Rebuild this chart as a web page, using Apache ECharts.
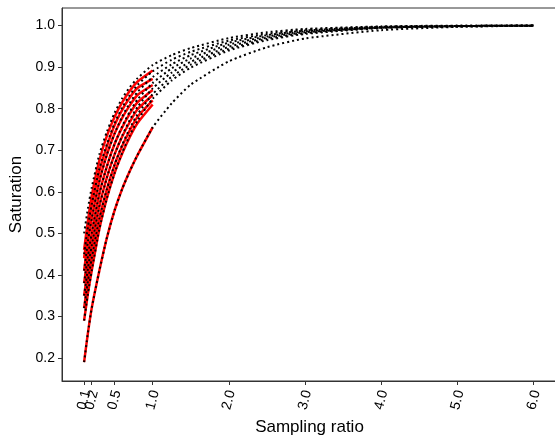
<!DOCTYPE html>
<html><head><meta charset="utf-8">
<script src="https://cdn.jsdelivr.net/npm/echarts@6/dist/echarts.min.js"></script>
<style>html,body{margin:0;padding:0;background:#fff}#c{width:555px;height:442px}</style>
</head><body><div id="c"></div>
<script>
// sampling ratios where curves were read
const xFull = [0.1, 0.15, 0.2, 0.3, 0.4, 0.5, 0.6, 0.7, 0.8, 1.0, 1.25, 1.5, 2.0, 2.5, 3.0, 4.0, 5.0, 6.0];
const xShort = [0.1, 0.15, 0.2, 0.3, 0.4, 0.5, 0.6, 0.7, 0.8, 1.0];
// black dotted curves (saturation)
const blackA = [0.50, 0.56, 0.61, 0.69, 0.745, 0.79, 0.825, 0.852, 0.873, 0.905, 0.929, 0.946, 0.97, 0.984, 0.992, 0.998, 1.0, 1.0];
const blackB = [0.45, 0.515, 0.57, 0.655, 0.715, 0.765, 0.803, 0.833, 0.857, 0.89, 0.918, 0.937, 0.964, 0.98, 0.99, 0.997, 0.999, 1.0];
const blackC = [0.41, 0.48, 0.535, 0.625, 0.69, 0.74, 0.781, 0.814, 0.84, 0.876, 0.907, 0.929, 0.959, 0.977, 0.988, 0.997, 0.999, 1.0];
const blackD = [0.38, 0.445, 0.50, 0.595, 0.662, 0.715, 0.758, 0.793, 0.822, 0.862, 0.897, 0.921, 0.954, 0.974, 0.986, 0.996, 0.999, 1.0];
const blackE = [0.35, 0.415, 0.47, 0.565, 0.635, 0.69, 0.735, 0.773, 0.804, 0.849, 0.887, 0.913, 0.949, 0.971, 0.984, 0.995, 0.999, 1.0];
const blackF = [0.32, 0.385, 0.44, 0.535, 0.607, 0.665, 0.713, 0.753, 0.786, 0.835, 0.877, 0.906, 0.944, 0.968, 0.982, 0.995, 0.998, 1.0];
const blackG = [0.29, 0.355, 0.41, 0.51, 0.585, 0.645, 0.694, 0.736, 0.771, 0.824, 0.868, 0.899, 0.94, 0.965, 0.98, 0.994, 0.998, 1.0];
const blackH = [0.19, 0.26, 0.32, 0.41, 0.49, 0.555, 0.607, 0.65, 0.688, 0.755, 0.813, 0.858, 0.914, 0.948, 0.969, 0.989, 0.997, 1.0];
// red solid curves (up to ratio 1.0)
const redA = [0.46, 0.53, 0.59, 0.675, 0.735, 0.78, 0.815, 0.843, 0.865, 0.892];
const redB = [0.44, 0.51, 0.565, 0.65, 0.71, 0.76, 0.797, 0.827, 0.85, 0.872];
const redC = [0.41, 0.48, 0.535, 0.625, 0.69, 0.74, 0.778, 0.808, 0.833, 0.857];
const redD = [0.38, 0.445, 0.50, 0.595, 0.662, 0.715, 0.755, 0.788, 0.815, 0.845];
const redE = [0.35, 0.415, 0.47, 0.565, 0.635, 0.69, 0.733, 0.768, 0.798, 0.833];
const redF = [0.32, 0.385, 0.44, 0.535, 0.607, 0.665, 0.71, 0.748, 0.78, 0.82];
const redG = [0.29, 0.355, 0.41, 0.51, 0.585, 0.645, 0.692, 0.732, 0.765, 0.81];
const redH = [0.19, 0.26, 0.32, 0.41, 0.49, 0.555, 0.607, 0.65, 0.688, 0.755];
// tick labels
const xTicks = [0.1, 0.2, 0.5, 1.0, 2.0, 3.0, 4.0, 5.0, 6.0];
const xTicksMain = [0.1, 0.5, 1.0, 2.0, 3.0, 4.0, 5.0, 6.0];
const xTicksExtra = [0.2];
const yTicks = [0.2, 0.3, 0.4, 0.5, 0.6, 0.7, 0.8, 0.9, 1.0];

const blacks = [blackA, blackB, blackC, blackD, blackE, blackF, blackG, blackH];
const reds = [redA, redB, redC, redD, redE, redF, redG, redH];
const font = 'Liberation Sans, Arial, Helvetica, sans-serif';
const xMin = -0.19, xMax = 6.306;

const series = [];
reds.forEach(r => series.push({
  type: 'line', showSymbol: false, smooth: 0.2,
  data: xShort.map((x, i) => [x, r[i]]),
  lineStyle: { color: '#ff0000', width: 2.5 }, z: 2
}));
blacks.forEach(b => series.push({
  type: 'line', showSymbol: false, smooth: 0.2,
  data: xFull.map((x, i) => [x, b[i]]),
  lineStyle: { color: '#000', width: 2, type: [2, 3], cap: 'butt' }, z: 3
}));

const labelStyle = {
  rotate: 75, margin: 19, align: 'center', verticalAlign: 'middle',
  hideOverlap: false, fontFamily: font, fontSize: 14, color: '#000',
  formatter: v => v.toFixed(1)
};

const chart = echarts.init(document.getElementById('c'), null, { renderer: 'canvas' });
chart.setOption({
  animation: false,
  backgroundColor: '#fff',
  grid: { left: 62, top: 8, right: -2, bottom: 61, containLabel: false, outerBoundsMode: 'none',
          show: true, borderColor: '#333', borderWidth: 1, backgroundColor: 'transparent' },
  xAxis: [{
    type: 'value', min: xMin, max: xMax, position: 'bottom',
    name: 'Sampling ratio', nameLocation: 'middle', nameGap: 37,
    nameTextStyle: { fontFamily: font, fontSize: 17, color: '#000' },
    axisLine: { show: true, onZero: false, lineStyle: { color: '#333', width: 1 } },
    axisTick: { show: true, inside: false, length: 4, customValues: xTicks, lineStyle: { color: '#333' } },
    splitLine: { show: false },
    axisLabel: Object.assign({ customValues: xTicksMain }, labelStyle)
  }, {
    type: 'value', min: xMin, max: xMax, position: 'bottom', offset: 0,
    axisLine: { show: false, onZero: false },
    axisTick: { show: false },
    splitLine: { show: false },
    axisLabel: Object.assign({ customValues: xTicksExtra }, labelStyle)
  }],
  yAxis: {
    type: 'value', min: 0.1446, max: 1.0424,
    name: 'Saturation', nameLocation: 'middle', nameGap: 34,
    nameTextStyle: { fontFamily: font, fontSize: 17, color: '#000' },
    axisLine: { show: true, onZero: false, lineStyle: { color: '#333', width: 1 } },
    axisTick: { show: true, inside: false, length: 4, customValues: yTicks, lineStyle: { color: '#333' } },
    splitLine: { show: false },
    axisLabel: {
      customValues: yTicks, margin: 7, fontFamily: font, fontSize: 14, color: '#000',
      hideOverlap: false,
      formatter: v => v.toFixed(1)
    }
  },
  series: series
});
</script></body></html>
